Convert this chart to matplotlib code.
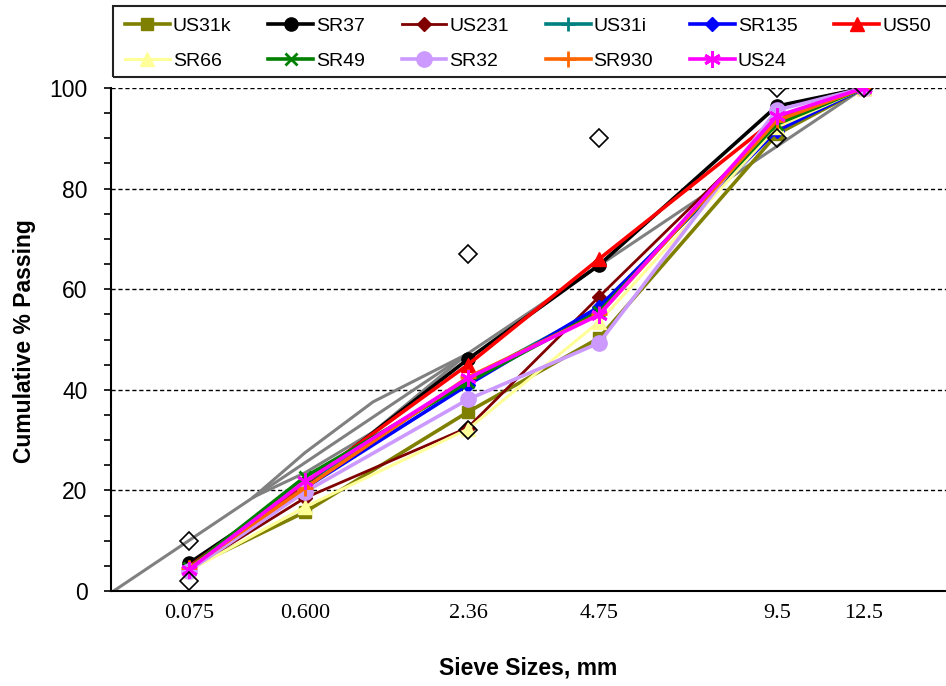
import numpy as np
import matplotlib
matplotlib.use("Agg")
import matplotlib.pyplot as plt
from matplotlib.patches import Rectangle

plt.rcParams['font.family'] = ['Liberation Sans', 'DejaVu Sans']

# sieve sizes (mm) and tick labels
sieves = [0.075, 0.6, 2.36, 4.75, 9.5, 12.5]
sieve_labels = ['0.075', '0.600', '2.36', '4.75', '9.5', '12.5']

# cumulative % passing for each mix
us31k = [4.5, 15.7, 35.6, 50.3, 90.8, 100]
sr37 = [5.5, 21.0, 46.1, 64.8, 96.4, 100]
us231 = [4.2, 18.5, 32.5, 58.5, 93.0, 100]
us31i = [4.5, 21.5, 42.0, 56.0, 92.5, 100]
sr135 = [4.3, 20.5, 41.0, 56.5, 91.5, 100]
us50 = [4.8, 21.5, 45.0, 66.0, 94.0, 100]
sr66 = [4.0, 16.7, 32.2, 53.5, 92.2, 100]
sr49 = [4.5, 22.7, 41.5, 55.5, 92.8, 100]
sr32 = [4.0, 19.7, 38.1, 49.3, 95.6, 100]
sr930 = [4.5, 20.5, 42.5, 55.0, 93.5, 100]
us24 = [4.2, 21.8, 42.3, 54.9, 94.4, 100]

# Superpave 9.5 mm limits
mdl_sizes = [0, 12.5]
mdl_pass = [0, 100]
rz_sizes = [0.3, 0.6, 1.18, 2.36]
rz_upper = [18.7, 27.5, 37.6, 47.2]
rz_lower = [18.7, 23.5, 31.6, 47.2]
cp_sizes = [0.075, 0.075, 2.36, 2.36, 4.75, 9.5, 9.5, 12.5]
cp_pass = [2, 10, 32, 67, 90, 90, 100, 100]

series = [
    ('US31k', us31k, '#808000', 's', 9, 2.6),
    ('SR37', sr37, 'black', 'o', 9.5, 2.6),
    ('US231', us231, '#800000', 'D', 7, 2.0),
    ('US31i', us31i, '#008080', '+', 10, 2.6),
    ('SR135', sr135, '#0000FF', 'D', 7, 2.6),
    ('US50', us50, '#FF0000', '^', 10, 2.6),
    ('SR66', sr66, '#FFFF99', '^', 10, 2.2),
    ('SR49', sr49, '#008000', 'x', 9, 2.6),
    ('SR32', sr32, '#CC99FF', 'o', 11, 2.6),
    ('SR930', sr930, '#FF6600', '+', 11, 2.6),
    ('US24', us24, '#FF00FF', (6, 2, 0), 12, 2.6),
]


def fwd(x):
    x = np.asarray(x, dtype=float)
    return np.sign(x) * np.abs(x) ** 0.45


def inv(x):
    x = np.asarray(x, dtype=float)
    return np.sign(x) * np.abs(x) ** (1 / 0.45)


fig = plt.figure(figsize=(9.46, 6.86), dpi=100)
ax = fig.add_axes([111 / 946, 1 - 591 / 686, 835 / 946, 503 / 686])
ax.set_xscale('function', functions=(fwd, inv))

ax.plot(mdl_sizes, mdl_pass, color='#808080', lw=2.2, zorder=2)
ax.plot(rz_sizes, rz_upper, color='#808080', lw=2.2, zorder=2)
ax.plot(rz_sizes, rz_lower, color='#808080', lw=2.2, zorder=2)

handles = []
for name, vals, col, mk, ms, lw in series:
    mew = 2 if mk in ('+', 'x') or isinstance(mk, tuple) else 1
    h, = ax.plot(sieves, vals, color=col, lw=lw, marker=mk, ms=ms,
                 mec=col, mfc=col, mew=mew, label=name, zorder=3)
    handles.append(h)

ax.plot(cp_sizes, cp_pass, ls='none', marker='D', ms=9, mfc='none',
        mec='black', mew=1.2, zorder=5)

ax.set_xlim(inv(-0.011), inv(3.457))
ax.set_ylim(0, 100)
ax.set_xticks(sieves)
ax.set_xticklabels(sieve_labels, fontfamily='Liberation Serif', fontsize=16)
ax.xaxis.set_minor_locator(matplotlib.ticker.NullLocator())
ax.tick_params(axis='x', length=0, pad=9)
ax.set_yticks(range(0, 101, 20))
ax.set_yticks(range(0, 101, 5), minor=True)
ax.tick_params(axis='y', which='both', direction='out', length=5, width=1.2,
               labelsize=16.5, pad=12)
ax.grid(axis='y', which='major', color='black', ls=(0, (3, 2)), lw=1)
ax.set_axisbelow(True)
for s in ('top', 'right'):
    ax.spines[s].set_visible(False)
for s in ('left', 'bottom'):
    ax.spines[s].set_linewidth(1.5)

fig.text(528 / 946, 1 - 668 / 686, 'Sieve Sizes, mm', ha='center', va='center',
         fontsize=16.5, fontweight='bold')
fig.text(25 / 946, 1 - 341 / 686, 'Cumulative % Passing', ha='center',
         va='center', rotation=90, fontsize=16.5, fontweight='bold')

# legend, row-major order as in the original
order = [0, 6, 1, 7, 2, 8, 3, 9, 4, 10, 5]
leg = fig.legend([handles[i] for i in order], [series[i][0] for i in order],
                 loc='upper left', bbox_to_anchor=(125 / 946, 1 - 17 / 686),
                 ncol=6, frameon=False, fontsize=14, borderpad=0,
                 borderaxespad=0, handlelength=2.3, handletextpad=0.15,
                 columnspacing=1.9, labelspacing=0.9)
fig.add_artist(Rectangle((113 / 946, 1 - 77 / 686), (970 - 113) / 946,
                         71 / 686, transform=fig.transFigure, fill=False,
                         ec='#222222', lw=1.5))

fig.savefig('out.png', dpi=100)
